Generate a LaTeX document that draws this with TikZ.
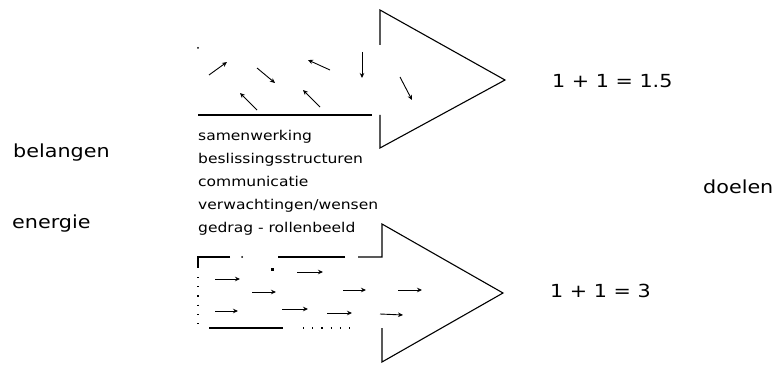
\documentclass[tikz,border=0pt]{standalone}
\usepackage{fontspec}
\setmainfont{DejaVu Sans}
\usepackage{graphicx}
\usetikzlibrary{arrows.meta}
\tikzset{
  outline/.style={line width=1.1pt, line join=miter},
  flow/.style={line width=0.9pt, -{Stealth[length=5pt,width=4.5pt]}},
  dotline/.style={line width=1.2pt, dash pattern=on 1.2pt off 8pt},
  listtext/.style={anchor=base west, inner sep=0pt, font=\fontsize{13.5}{16}\selectfont},
  bigtext/.style={anchor=base west, inner sep=0pt, font=\fontsize{18}{21}\selectfont},
}
\newcommand\widetxt[1]{\scalebox{1.15}[1]{#1}}
\begin{document}
\begin{tikzpicture}[x=1pt,y=-1pt]
\useasboundingbox (0,0) rectangle (782,366);

% ---------- upper arrow (1 + 1 = 1.5) ----------
\coordinate (ut) at (380,10);
\coordinate (utip) at (505,80);
\coordinate (ub) at (380,148);
\draw[outline] (380,45) -- (ut) -- (utip) -- (ub) -- (380,115);
\draw[outline] (198,115) -- (372,115);
\fill (198,48) circle (1pt);
\draw[flow] (209,75) -- (227,62);
\draw[flow] (257,68) -- (275,83);
\draw[flow] (330,70) -- (308,60);
\draw[flow] (362,52) -- (362,78);
\draw[flow] (400,77) -- (412,100);
\draw[flow] (257,110) -- (240,93);
\draw[flow] (320,107) -- (303,90);

% ---------- lower arrow (1 + 1 = 3) ----------
\coordinate (lt) at (382,224);
\coordinate (ltip) at (503,293);
\coordinate (lb) at (382,362);
\draw[outline] (358,257) -- (382,257) -- (lt) -- (ltip) -- (lb) -- (382,328);
\draw[outline] (345,257) -- (278,257);
\draw[outline] (230,257) -- (198,257) -- (198,268);
\fill (242,257) circle (1pt);
\draw[dotline] (198,277) -- (198,328);
\draw[outline] (209,328) -- (283,328);
\draw[dotline] (303,328) -- (352,328);
\draw[flow] (215,279) -- (240,279);
\fill (271,268) rectangle (274,271);
\draw[flow] (297,272) -- (323,272);
\draw[flow] (252,292) -- (276,292);
\draw[flow] (343,290) -- (366,290);
\draw[flow] (398,290) -- (422,290);
\draw[flow] (215,311) -- (238,311);
\draw[flow] (282,309) -- (308,309);
\draw[flow] (327,313) -- (352,313);
\draw[flow] (380,314) -- (403,315);

% ---------- texts ----------
\node[bigtext] (belangen) at (13,158) {\widetxt{belangen}};
\node[bigtext] (energie) at (12,229) {\widetxt{energie}};
\node[listtext] (l1) at (198,141) {\widetxt{samenwerking}};
\node[listtext] (l2) at (198,164) {\widetxt{beslissingsstructuren}};
\node[listtext] (l3) at (198,187) {\widetxt{communicatie}};
\node[listtext] (l4) at (198,210) {\widetxt{verwachtingen/wensen}};
\node[listtext] (l5) at (198,233) {\widetxt{gedrag - rollenbeeld}};
\node[bigtext] (r1) at (552,88) {\widetxt{1 + 1 = 1.5}};
\node[bigtext] (doelen) at (703,194) {\widetxt{doelen}};
\node[bigtext] (r2) at (550,298) {\widetxt{1 + 1 = 3}};
\end{tikzpicture}
\end{document}
